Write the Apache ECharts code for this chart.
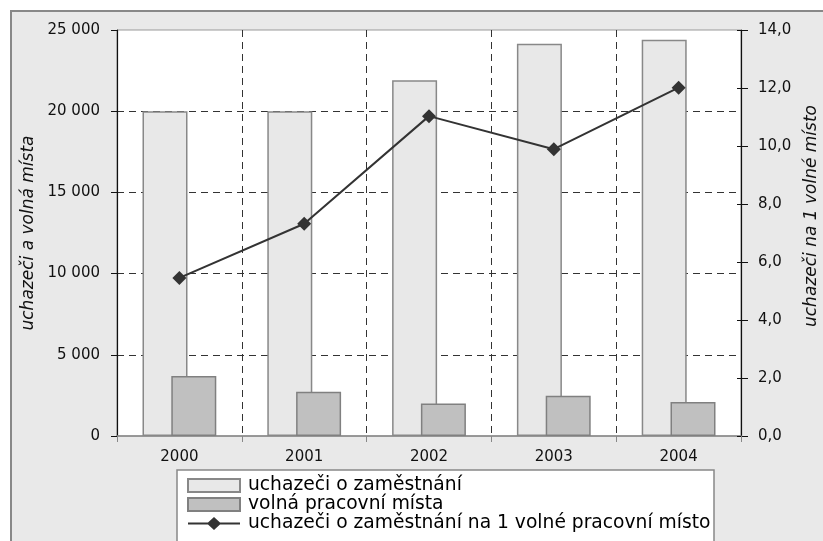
<!DOCTYPE html>
<html>
<head>
<meta charset="utf-8">
<script src="https://cdn.jsdelivr.net/npm/echarts@6/dist/echarts.min.js"></script>
<style>
  html, body { margin: 0; padding: 0; background: #fff; }
  #frame { position: absolute; left: 10px; top: 10px; width: 900px; height: 600px;
           background: #e9e9e9; border: 2px solid #888; }
  #chart { position: absolute; left: 0; top: 0; width: 823px; height: 541px; }
</style>
</head>
<body>
<div id="frame"></div>
<div id="chart"></div>
<script>
// hodnoty
const roky = ['2000', '2001', '2002', '2003', '2004'];
const uchazeci = [20000, 20000, 21900, 24150, 24400];
const volnaMista = [3700, 2730, 2000, 2480, 2090];
const naMisto = [5.45, 7.32, 11.03, 9.89, 12.01];

const FONT = 'DejaVu Sans';
const dash = [7, 5];

const chart = echarts.init(document.getElementById('chart'), null, { renderer: 'canvas' });

const option = {
  animation: false,
  backgroundColor: 'transparent',
  textStyle: { fontFamily: FONT },
  grid: {
    left: 117, top: 30, width: 624, height: 406,
    show: true, backgroundColor: '#fff', borderColor: '#999', borderWidth: 1,
    containLabel: false, outerBoundsMode: 'none'
  },
  // rámeček legendy (pokračuje pod spodní okraj obrázku)
  graphic: [{
    type: 'rect', z: 1,
    shape: { x: 177, y: 470, width: 537, height: 100 },
    style: { fill: '#fff', stroke: '#888', lineWidth: 1.5 }
  }],
  legend: {
    orient: 'vertical', align: 'left',
    left: 177, top: 470,
    padding: [6, 10, 0, 10],
    itemWidth: 52, itemHeight: 13, itemGap: 0,
    textStyle: { fontFamily: FONT, fontSize: 18.7, color: '#000', padding: [0, 0, 0, 3] },
    data: [
      { name: 'uchazeči o zaměstnání', icon: 'rect' },
      { name: 'volná pracovní místa', icon: 'rect' },
      {
        name: 'uchazeči o zaměstnání na 1 volné pracovní místo',
        icon: 'path://M0,5.5L20,5.5L26,0L32,5.5L52,5.5L52,7.5L32,7.5L26,13L20,7.5L0,7.5Z'
      }
    ]
  },
  xAxis: {
    type: 'category', data: roky, boundaryGap: true,
    axisLine: { lineStyle: { color: '#888', width: 1.5 } },
    axisTick: { show: true, length: 6, alignWithLabel: false, lineStyle: { color: '#888' } },
    axisLabel: { interval: 0, margin: 14, fontFamily: FONT, fontSize: 15, color: '#111' },
    splitLine: { show: true, interval: 0, lineStyle: { type: dash, color: '#333', width: 1 } }
  },
  yAxis: [
    {
      type: 'value', min: 0, max: 25000, interval: 5000, position: 'left',
      name: 'uchazeči a volná místa', nameLocation: 'middle', nameRotate: 90, nameGap: 80,
      nameTextStyle: { fontFamily: FONT, fontSize: 17, fontStyle: 'italic', color: '#111' },
      axisLine: { show: true, lineStyle: { color: '#111', width: 1.2 } },
      axisTick: { show: true, length: 6, lineStyle: { color: '#111' } },
      axisLabel: {
        margin: 17, fontFamily: FONT, fontSize: 15, color: '#111',
        formatter: v => String(v).replace(/\B(?=(\d{3})+(?!\d))/g, ' ')
      },
      splitLine: { show: true, showMinLine: false, showMaxLine: false, lineStyle: { type: dash, color: '#333', width: 1 } }
    },
    {
      type: 'value', min: 0, max: 14, interval: 2, position: 'right',
      name: 'uchazeči na 1 volné místo', nameLocation: 'middle', nameRotate: 90, nameGap: 62,
      nameTextStyle: { fontFamily: FONT, fontSize: 17, fontStyle: 'italic', color: '#111', padding: [0, 0, 0, 34] },
      axisLine: { show: true, lineStyle: { color: '#111', width: 1.2 } },
      axisTick: { show: true, length: 7, lineStyle: { color: '#111' } },
      axisLabel: {
        margin: 17, fontFamily: FONT, fontSize: 15, color: '#111',
        formatter: v => v.toFixed(1).replace('.', ',')
      },
      splitLine: { show: false }
    },
    {
      // vnitřní část křížových značek na pravé ose
      type: 'value', min: 0, max: 14, interval: 2, position: 'right',
      axisLine: { show: false },
      axisTick: { show: true, inside: true, length: 4, lineStyle: { color: '#111' } },
      axisLabel: { show: false },
      splitLine: { show: false }
    }
  ],
  series: [
    {
      name: 'uchazeči o zaměstnání', type: 'bar', data: uchazeci,
      barWidth: 45, barGap: '-36%',
      itemStyle: { color: '#e8e8e8', borderColor: '#888', borderWidth: 1.5 }
    },
    {
      name: 'volná pracovní místa', type: 'bar', data: volnaMista,
      barWidth: 45, barGap: '-36%',
      itemStyle: { color: '#c0c0c0', borderColor: '#808080', borderWidth: 1.5 }
    },
    {
      name: 'uchazeči o zaměstnání na 1 volné pracovní místo', type: 'line', yAxisIndex: 1, data: naMisto,
      symbol: 'diamond', symbolSize: 14, z: 5,
      lineStyle: { color: '#333', width: 2 },
      itemStyle: { color: '#333' }
    }
  ]
};

chart.setOption(option);
</script>
</body>
</html>
